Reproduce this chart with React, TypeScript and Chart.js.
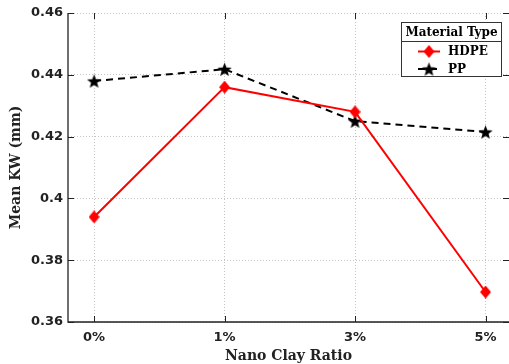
import { useEffect, useRef } from "react";
import { Chart, registerables } from "chart.js";

Chart.register(...registerables);

const categories = ["0%", "1%", "3%", "5%"];
const hdpeValues = [0.394, 0.436, 0.428, 0.3697];
const ppValues = [0.438, 0.4418, 0.425, 0.4215];
const yTicks = [0.36, 0.38, 0.4, 0.42, 0.44, 0.46];
const seriesNames = ["HDPE", "PP"];
const legendTitle = "Material Type";
const xTitle = "Nano Clay Ratio";
const yTitle = "Mean KW (mm)";

function makeDiamond(color: string, w: number, h: number) {
  const c = document.createElement("canvas");
  c.width = w;
  c.height = h;
  const g = c.getContext("2d")!;
  g.fillStyle = color;
  g.beginPath();
  g.moveTo(w / 2, 0);
  g.lineTo(w, h / 2);
  g.lineTo(w / 2, h);
  g.lineTo(0, h / 2);
  g.closePath();
  g.fill();
  return c;
}

function makeStar(color: string, size: number) {
  const c = document.createElement("canvas");
  c.width = size;
  c.height = size;
  const g = c.getContext("2d")!;
  const cx = size / 2;
  const cy = size / 2 + size * 0.05;
  const ro = size / 2;
  const ri = ro * 0.42;
  g.fillStyle = color;
  g.beginPath();
  for (let i = 0; i < 10; i++) {
    const r = i % 2 === 0 ? ro : ri;
    const a = -Math.PI / 2 + (i * Math.PI) / 5;
    const px = cx + r * Math.cos(a);
    const py = cy + r * Math.sin(a);
    if (i === 0) g.moveTo(px, py);
    else g.lineTo(px, py);
  }
  g.closePath();
  g.fill();
  return c;
}

export default function App() {
  const ref = useRef<HTMLCanvasElement>(null);

  useEffect(() => {
    const diamond = makeDiamond("#ff0000", 11, 13);
    const star = makeStar("#000000", 15);
    const tickFont = { family: "DejaVu Sans", size: 13, weight: "bold" as const };
    const titleFont = { family: "DejaVu Serif", size: 14, weight: "bold" as const };

    const axesPlugin = {
      id: "axesPlugin",
      afterDraw(chart: any) {
        const { ctx, chartArea } = chart;
        const { left, right, top, bottom } = chartArea;
        const xs = chart.scales.x;
        const ys = chart.scales.y;
        ctx.save();
        ctx.strokeStyle = "#222";
        ctx.lineWidth = 1.3;
        ctx.setLineDash([]);
        ctx.beginPath();
        ctx.moveTo(left, top);
        ctx.lineTo(left, bottom);
        ctx.lineTo(right, bottom);
        ctx.stroke();
        ctx.lineWidth = 1;
        ctx.beginPath();
        ys.ticks.forEach((t: any) => {
          const y = Math.round(ys.getPixelForValue(t.value)) + 0.5;
          ctx.moveTo(left, y);
          ctx.lineTo(left + 6, y);
          ctx.moveTo(right, y);
          ctx.lineTo(right - 6, y);
        });
        xs.ticks.forEach((t: any) => {
          const x = Math.round(xs.getPixelForValue(t.value)) + 0.5;
          ctx.moveTo(x, bottom);
          ctx.lineTo(x, bottom - 6);
          ctx.moveTo(x, top);
          ctx.lineTo(x, top + 6);
        });
        ctx.stroke();

        // legend
        const bw = 100;
        const bh = 54;
        const bx = right - 8 - bw;
        const by = top + 9;
        ctx.fillStyle = "#ffffff";
        ctx.fillRect(bx, by, bw, bh);
        ctx.strokeStyle = "#333";
        ctx.lineWidth = 1;
        ctx.strokeRect(bx + 0.5, by + 0.5, bw, bh);
        ctx.beginPath();
        ctx.moveTo(bx, by + 19.5);
        ctx.lineTo(bx + bw, by + 19.5);
        ctx.stroke();
        ctx.fillStyle = "#000";
        ctx.font = "bold 12px 'DejaVu Serif'";
        ctx.textAlign = "center";
        ctx.textBaseline = "middle";
        ctx.fillText(legendTitle, bx + bw / 2 + 0.5, by + 10.5);
        ctx.textAlign = "left";
        chart.data.datasets.forEach((ds: any, i: number) => {
          const ly = by + 29.5 + i * 17.5;
          const lx0 = bx + 17;
          const lx1 = bx + 39;
          ctx.strokeStyle = ds.borderColor;
          ctx.lineWidth = 2;
          ctx.setLineDash(ds.borderDash || []);
          ctx.beginPath();
          ctx.moveTo(lx0, ly);
          ctx.lineTo(lx1, ly);
          ctx.stroke();
          ctx.setLineDash([]);
          const img = ds.pointStyle as HTMLCanvasElement;
          ctx.drawImage(img, (lx0 + lx1) / 2 - img.width / 2, ly - img.height / 2);
          ctx.fillStyle = "#000";
          ctx.font = "bold 12px 'DejaVu Serif'";
          ctx.fillText(ds.label, bx + 47, ly + 0.5);
        });
        ctx.restore();
      },
    };

    const chart = new Chart(ref.current!, {
      type: "line",
      data: {
        datasets: [
          {
            label: seriesNames[0],
            data: hdpeValues.map((v, i) => ({ x: i, y: v })),
            borderColor: "#ff0000",
            backgroundColor: "#ff0000",
            borderWidth: 2,
            pointStyle: diamond,
            pointRadius: 6,
            tension: 0,
          },
          {
            label: seriesNames[1],
            data: ppValues.map((v, i) => ({ x: i, y: v })),
            borderColor: "#000000",
            backgroundColor: "#000000",
            borderWidth: 2,
            borderDash: [7, 5],
            pointStyle: star,
            pointRadius: 7,
            tension: 0,
          },
        ],
      },
      options: {
        responsive: false,
        animation: false,
        devicePixelRatio: 1,
        layout: { autoPadding: false, padding: { top: 13, right: 0, left: 0, bottom: 0 } },
        plugins: { legend: { display: false }, tooltip: { enabled: false } },
        scales: {
          x: {
            type: "linear",
            min: -0.2,
            max: 3.18,
            afterBuildTicks: (s: any) => {
              s.ticks = categories.map((_, i) => ({ value: i }));
            },
            afterFit: (s: any) => {
              s.height = 42;
              s.paddingLeft = 0;
              s.paddingRight = 0;
            },
            ticks: {
              callback: (v: any) => categories[Math.round(Number(v))] ?? "",
              font: tickFont,
              color: "#222",
              padding: 8,
              maxRotation: 0,
            },
            grid: { color: "#c4c4c4", lineWidth: 1, drawTicks: false },
            border: { display: false, dash: [1, 2] },
            title: { display: true, text: xTitle, font: titleFont, color: "#222", padding: { top: 0, bottom: -1 } },
          },
          y: {
            min: 0.36,
            max: 0.46,
            afterBuildTicks: (s: any) => {
              s.ticks = yTicks.map((v) => ({ value: v }));
            },
            afterFit: (s: any) => {
              s.width = 68;
              s.paddingTop = 0;
              s.paddingBottom = 0;
            },
            ticks: {
              callback: (v: any) => String(Number(Number(v).toFixed(2))),
              font: tickFont,
              color: "#222",
              padding: 5,
            },
            grid: { color: "#c4c4c4", lineWidth: 1, drawTicks: false },
            border: { display: false, dash: [1, 2] },
            title: { display: true, text: yTitle, font: titleFont, color: "#222", padding: { top: 8, bottom: 0 } },
          },
        },
      },
      plugins: [axesPlugin],
    } as any);
    return () => chart.destroy();
  }, []);

  return (
    <div style={{ position: "fixed", left: 0, top: 0, width: 509, height: 364, background: "#fff" }}>
      <canvas ref={ref} width={509} height={364} style={{ width: 509, height: 364 }} />
    </div>
  );
}
